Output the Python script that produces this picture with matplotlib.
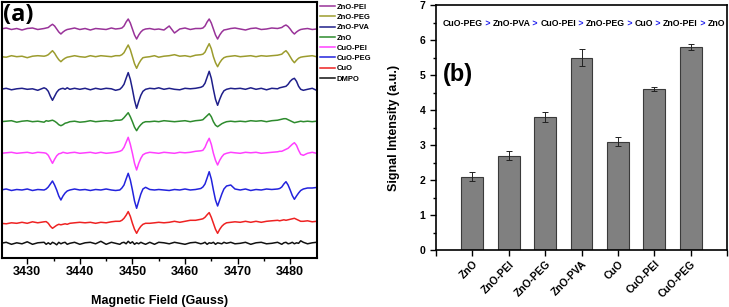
import matplotlib
matplotlib.use('Agg')
import matplotlib.pyplot as plt

plt.rcParams['font.family'] = 'Liberation Sans'
plt.rcParams['font.weight'] = 'bold'

# ---- panel (a): EPR spectra ----
# field positions shared by all traces (Gauss); denser around the four lines
field = [3425.0, 3426.0, 3427.0, 3428.0, 3429.0, 3430.0, 3431.0, 3432.0,
         3433.2, 3433.6, 3434.0, 3434.4, 3434.8, 3435.2, 3435.6, 3436.0, 3436.4, 3436.8, 3437.2, 3437.6, 3438.1,
         3439.0, 3440.0, 3441.0, 3442.0, 3443.0, 3444.0, 3445.0, 3446.0, 3446.8,
         3447.6, 3448.0, 3448.4, 3448.8, 3449.2, 3449.6, 3450.0, 3450.4, 3450.8, 3451.2, 3451.6, 3452.0, 3452.5,
         3453.3, 3454.2, 3455.0, 3456.0, 3457.0, 3458.0, 3459.0, 3460.0, 3461.0, 3462.0,
         3463.0, 3463.4, 3463.8, 3464.2, 3464.6, 3465.0, 3465.4, 3465.8, 3466.2, 3466.6, 3467.0, 3467.4, 3467.9,
         3468.7, 3469.5, 3470.5, 3471.5, 3472.5, 3473.5, 3474.5, 3475.5, 3476.5,
         3477.6, 3478.0, 3478.4, 3478.8, 3479.2, 3479.6, 3480.0, 3480.4, 3480.8, 3481.2, 3481.6, 3482.0, 3482.5,
         3483.3, 3484.2, 3485.0]

# signal relative to each trace's own baseline (a.u.)
zno_pei = [0, 1, -0.5, 0.5, -1, 0.5, 1, -0.5,
           0.5, 1, 1.5, 3.3, 4.7, 3, 0, -3, -5, -3, -1.5, -0.5, 0,
           1, -0.5, 0.5, -1, 0.5, 0, -0.5, 1, 0,
           0.5, 1, 3, 7, 10, 6, 0, -6, -10, -6, -3, -1, 0,
           0.5, -0.5, 0, -1, 3, -4, 0, 1, -0.5, 0.5,
           0.5, 1, 3, 7, 10, 6, 0, -6, -10, -6, -3, -1, -0.5,
           0.5, 1, 0, -1, 0.5, 1, -0.5, 0, 1,
           0.5, 1, 1.5, 3, 4, 2.5, 0, -3, -5, -3, -1.5, -0.5, 0,
           0.5, -0.5, 0]
zno_peg = [0, -0.5, 1, 0, 0.5, -1, 0.5, 1,
           0.5, 1, 2, 4, 6, 3.5, 0, -3, -5, -3, -1.5, -0.5, 0,
           1, 0, -0.5, 1, 0, 1, 0.5, 0, 1,
           1, 2, 4, 8, 11.7, 7, 0, -7, -11.6, -7, -3.5, -1, -0.5,
           0, 1, -0.5, 0.5, 1, 2, 0.5, 1, 0, 1.5,
           2, 2.5, 4.5, 9, 13, 8, 0, -6, -10, -6, -3, -1, 0,
           0.5, 1, 0, 0.5, 1, 0, 1, 0.5, 1,
           1.5, 2, 2.5, 4.5, 6, 3.5, 0, -3.5, -6, -3.5, -1.5, -0.5, 0,
           0.5, 1, 0]
zno_pva = [0, 1, -0.5, 0.5, 1, 0, 0.5, -1,
           1.5, 0.5, -2, -7, -11, -7, -3, -0.5, 0.5, 1, 0, 1.5, 0,
           1, 0, 1, -0.5, 1, 0, 1, 0.5, -1,
           0, 2, 5, 11, 16.7, 10, 0, -11, -19, -12, -6, -2, 0,
           1, 0.5, 1.5, 0, 1, 0, -0.5, 1, 0.5, 1,
           2, 3, 6, 12, 18, 11, 0, -10, -16, -10, -5, -1.5, 0,
           1, 0.5, 1, 0, 1.5, 0, 1, -0.5, 1,
           0.5, 1.5, 2, 2.5, 3, 5, 8, 10, 11, 8, 3, 0, -1,
           0, 1, -1]
zno = [0, 0.5, 1, -0.5, 0.5, 1, 0, 0.5,
       -0.5, 1, 0.5, 1, 1.5, 0.5, -1, -3, -4, -3, -1.5, -1, 0,
       0.5, -0.5, 0, 1, 0, 0.5, 1, 0.5, 1.5,
       1.5, 2, 4, 6.5, 9, 5, 0, -5.5, -9, -5.5, -3, -1, 0,
       0, 0.5, 0, 1, 0.5, 0, 0.5, 1, 0, 1,
       1.5, 2, 4, 6, 8, 5, 0, -3.5, -5, -3.5, -2, -1, 0,
       0.5, 0, 0.5, 0, 1, 0.5, 1, 0, 1,
       1.5, 2, 2.5, 3, 3, 2, 1, 0, -1, -0.5, 0, 0.5, 0,
       0.5, 0, 0.5]
cuo_pei = [0, 0.5, 1, 0, 0.5, 1, 0, 1,
           0.5, 0, -2, -6, -10, -6, -2.5, -0.5, 0, 1, 0.5, 0, 0.5,
           1, 0, 0.5, 1, 0, 1, 0, 0.5, 1,
           2, 3, 6, 11, 16, 9, 0, -10, -16.7, -10, -5, -1.5, 0,
           1, 0.5, 0, 1, 0.5, 0, 1, 0.5, 1, 2,
           2.5, 3, 6, 11, 15, 9, 0, -7, -11.7, -7, -3.5, -1, 0,
           1, 0.5, 0, 1, 0.5, 1, 0, 0.5, 1,
           1.5, 2, 2, 3, 4, 5, 7, 9, 10.6, 8, 3, -1, -2,
           0, 1, 0]
cuo_peg = [0, 1, -0.5, 0.5, 0, 1, -0.5, 0.5,
           0, 1, 3, 6, 9, 5, 0, -6, -10, -6, -3, -1, 0,
           1, 0, 0.5, -0.5, 0.5, 0, 1, 0, -0.5,
           0, 2, 5, 11, 16.7, 10, 0, -11, -18.3, -11, -4, 1, 2.7,
           0.5, 0, 0.5, 0, -0.5, 0.5, 0, 1, 0, 0.5,
           1.5, 3, 6, 12, 18.3, 11, 0, -10, -16, -10, -4, 1, 4,
           5, 1, 0, 1, -0.5, 0.5, 0, 1, 0.5,
           1, 1.5, 3, 6, 8.3, 5, 0, -5.5, -9.3, -6, -3, -0.5, 1,
           2, 2, 2.5]
cuo = [0, -0.5, 0.5, 0, 1, 0, 1.5, 0.5,
       1.5, 1.7, 0, -3, -5, -3.5, -2, -1, -1.5, -1, -0.5, -1, 0,
       0.5, 1, 0.5, 1, 0, 1, 0.5, 1.5, 2,
       2, 3, 5, 8, 11.7, 7, 0, -6, -10, -6, -3, -1, 0,
       0, 0.5, 1, 0.5, 1, 2, 1, 2, 3, 3,
       4, 4.5, 6, 8.5, 10.7, 6, 0, -6, -10, -6, -3, -1, 0.5,
       1, 1.5, 1, 2, 1, 2, 1, 2, 2.5,
       3, 2.5, 3, 3.5, 3, 3.5, 4, 4.5, 5, 4, 3, 2, 2,
       2.5, 1.5, 2]
dmpo = [0, 1, -1, 0.5, -0.5, 1.5, -1, 0.5,
        1, -1, 0.5, -1, 1, 0, -1.5, 1, -0.5, 0.5, 1, -1, 0,
        1, -1, 0.5, 1, -0.5, 2, -1, 1, 0,
        -1, 0.5, 1, -0.5, 2, 0, 1.5, -1, 0.5, -0.5, 1, 0, -1,
        1, -1, 1, 0.5, -0.5, 1, 0, -1, 0.5, 1,
        -0.5, 0, 1, -1, 0.5, 0, 1, -1, 0.5, 0, -0.5, 1, 0,
        1, -0.5, 0, 1, -1, 0.5, 1, -0.5, 0,
        1, 0, -1, 0.5, 1, -0.5, 0, 1, -0.5, 0.5, 0, 2.5, 1,
        -0.5, 0.5, 1]

spec_names = ['ZnO-PEI', 'ZnO-PEG', 'ZnO-PVA', 'ZnO', 'CuO-PEI', 'CuO-PEG', 'CuO', 'DMPO']
spectra = [zno_pei, zno_peg, zno_pva, zno, cuo_pei, cuo_peg, cuo, dmpo]
offsets = [229, 201.3, 168.7, 136.3, 104.7, 68, 34.7, 14.7]
spec_colors = ['#993399', '#9c9c2e', '#1f1f8a', '#2e8b2e', '#ff40ff', '#2323dd', '#ee2222', '#111111']

# ---- panel (b): signal intensity bars ----
samples = ['ZnO', 'ZnO-PEI', 'ZnO-PEG', 'ZnO-PVA', 'CuO', 'CuO-PEI', 'CuO-PEG']
intensity = [2.1, 2.7, 3.8, 5.5, 3.1, 4.6, 5.8]
err = [0.12, 0.12, 0.15, 0.25, 0.13, 0.06, 0.09]
ranking = ['CuO-PEG', 'ZnO-PVA', 'CuO-PEI', 'ZnO-PEG', 'CuO', 'ZnO-PEI', 'ZnO']

fig = plt.figure(figsize=(7.29, 3.07), dpi=100)

# panel (a)
ax1 = fig.add_axes([2 / 729, 1 - 258 / 307, 315 / 729, 256 / 307])
for name, y, off, c in zip(spec_names, spectra, offsets, spec_colors):
    ax1.plot(field, [v + off for v in y], color=c, lw=1.1, label=name)
ax1.set_xlim(3425.2, 3485.1)
ax1.set_ylim(0, 256)
ax1.set_yticks([])
ax1.set_xticks([3430, 3440, 3450, 3460, 3470, 3480])
ax1.set_xticks([3435, 3445, 3455, 3465, 3475], minor=True)
ax1.tick_params(axis='x', direction='out', length=4, width=1, labelsize=9, pad=2)
ax1.tick_params(axis='x', which='minor', direction='out', length=2.5, width=1)
for s in ax1.spines.values():
    s.set_linewidth(1.5)
ax1.set_xlabel('Magnetic Field (Gauss)', fontsize=9, fontweight='bold', labelpad=12)
ax1.text(0.004, 0.995, '(a)', transform=ax1.transAxes, fontsize=17, fontweight='bold',
         family='Open Sans', va='top', ha='left')
ax1.legend(loc='upper left', bbox_to_anchor=(1.005, 1.0), frameon=False, fontsize=5.5,
           handlelength=1.9, handletextpad=0.3, labelspacing=0.38, borderaxespad=0,
           borderpad=0.2)

# panel (b)
ax2 = fig.add_axes([436 / 729, 1 - 250 / 307, 291 / 729, 245 / 307])
pos = list(range(len(samples)))
ax2.bar(pos, intensity, width=0.6, color='#808080', edgecolor='#3a3a3a', linewidth=0.8,
        yerr=err, error_kw=dict(ecolor='#222222', elinewidth=0.7, capsize=2.5, capthick=0.7))
ax2.set_xlim(-1, 7)
ax2.set_ylim(0, 7)
ax2.set_xticks([-1] + pos + [7])
ax2.set_xticklabels([''] + samples + [''], rotation=45, ha='right', rotation_mode='anchor',
                    fontsize=7.5, fontweight='bold')
ax2.set_yticks(range(8))
ax2.set_yticks([0.5, 1.5, 2.5, 3.5, 4.5, 5.5, 6.5], minor=True)
ax2.tick_params(axis='both', direction='out', length=4.5, width=1, labelsize=7.5, pad=2)
ax2.tick_params(axis='y', which='minor', direction='out', length=2.5, width=1)
ax2.tick_params(axis='y', pad=3)
for s in ax2.spines.values():
    s.set_linewidth(1.2)
ax2.set_ylabel('Signal Intensity (a.u.)', fontsize=9, fontweight='bold', labelpad=14)
ax2.text(-0.82, 5.0, '(b)', fontsize=17, fontweight='bold', va='center', ha='left')

# ranking line with blue ">" separators
t = ax2.text(-0.82, 6.46, ranking[0], fontsize=6.3, fontweight='bold', va='center', ha='left')
for r in ranking[1:]:
    t = ax2.annotate(' > ', xy=(1, 0), xycoords=t, va='bottom', ha='left',
                     fontsize=6.3, fontweight='bold', color='#2222ee')
    t = ax2.annotate(r, xy=(1, 0), xycoords=t, va='bottom', ha='left',
                     fontsize=6.3, fontweight='bold', color='black')

fig.savefig('out.png', dpi=100)
